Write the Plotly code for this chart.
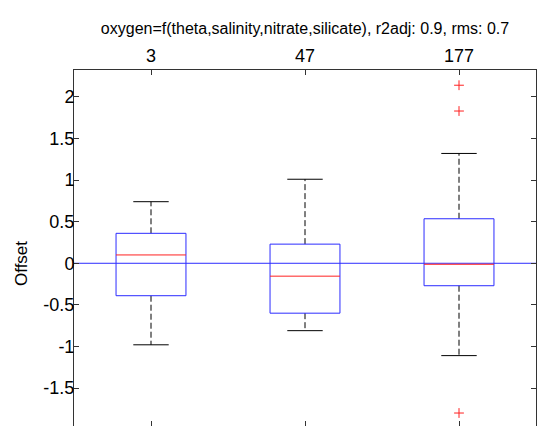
import plotly.graph_objects as go

# ---- data ----
categories = ["3", "47", "177"]
positions = [0, 1, 2]
q1 = [-0.39, -0.60, -0.27]
median = [0.10, -0.155, -0.012]
q3 = [0.36, 0.23, 0.535]
lower_whisker = [-0.98, -0.81, -1.11]
upper_whisker = [0.74, 1.01, 1.32]
outlier_group = [2, 2, 2]
outlier_values = [2.14, 1.83, -1.80]
y_ticks = [-1.5, -1, -0.5, 0, 0.5, 1, 1.5, 2]
y_ticklabels = ["-1.5", "-1", "-0.5", "0", "0.5", "1", "1.5", "2"]
reference_level = 0
title_text = "oxygen=f(theta,salinity,nitrate,silicate), r2adj: 0.9, rms: 0.7"

# ---- styles ----
FONT = "Liberation Sans, Arial, sans-serif"
AXC = "#333333"
BLUE = "#2b2bff"
RED = "#ff2020"
half_w = 0.227
cap_w = 0.115

box_x, box_y = [], []
med_x, med_y = [], []
wh_x, wh_y = [], []
cap_x, cap_y = [], []
for p, a, m, b, lo, hi in zip(positions, q1, median, q3, lower_whisker, upper_whisker):
    box_x += [p - half_w, p + half_w, p + half_w, p - half_w, p - half_w, None]
    box_y += [a, a, b, b, a, None]
    med_x += [p - half_w, p + half_w, None]
    med_y += [m, m, None]
    wh_x += [p, p, None, p, p, None]
    wh_y += [b, hi, None, a, lo, None]
    cap_x += [p - cap_w, p + cap_w, None, p - cap_w, p + cap_w, None]
    cap_y += [hi, hi, None, lo, lo, None]

fig = go.Figure()
fig.add_trace(go.Scatter(x=wh_x, y=wh_y, mode="lines",
                         line=dict(color="#000000", width=1, dash="6px,3px"),
                         hoverinfo="skip", showlegend=False))
fig.add_trace(go.Scatter(x=cap_x, y=cap_y, mode="lines",
                         line=dict(color="#000000", width=1),
                         hoverinfo="skip", showlegend=False))
fig.add_trace(go.Scatter(x=box_x, y=box_y, mode="lines",
                         line=dict(color=BLUE, width=1),
                         hoverinfo="skip", showlegend=False))
fig.add_trace(go.Scatter(x=med_x, y=med_y, mode="lines",
                         line=dict(color=RED, width=1),
                         hoverinfo="skip", showlegend=False))
fig.add_trace(go.Scatter(x=[positions[g] for g in outlier_group], y=outlier_values,
                         mode="markers",
                         marker=dict(symbol="cross-thin", size=7,
                                     line=dict(color=RED, width=1)),
                         hoverinfo="skip", showlegend=False))
# dummy trace on the bottom x axis so its ticks render
fig.add_trace(go.Scatter(x=[positions[0]], y=[median[0]], xaxis="x2", mode="markers",
                         marker=dict(opacity=0), hoverinfo="skip", showlegend=False))

fig.update_layout(
    width=538, height=426,
    margin=dict(l=74, r=2, t=70, b=0),
    paper_bgcolor="white", plot_bgcolor="white",
    font=dict(family=FONT, color="#000000"),
    title=dict(text=title_text, font=dict(size=16, family=FONT, color="#000000"),
               x=0.5, xref="paper", xanchor="center",
               y=1 - 28 / 426, yref="container", yanchor="middle"),
    xaxis=dict(range=[-0.5, 2.5], side="top", tickmode="array",
               tickvals=positions, ticktext=categories,
               ticks="inside", ticklen=5, tickcolor=AXC,
               showline=True, linecolor=AXC, linewidth=1,
               showgrid=False, zeroline=False,
               tickfont=dict(size=18, family=FONT, color="#000000")),
    xaxis2=dict(range=[-0.5, 2.5], overlaying="x", side="bottom", anchor="y",
                tickmode="array", tickvals=positions, showticklabels=False,
                ticks="inside", ticklen=5, tickcolor=AXC,
                showline=False, showgrid=False, zeroline=False),
    yaxis=dict(range=[-1.956, 2.323], tickmode="array",
               tickvals=y_ticks, ticktext=y_ticklabels,
               ticks="inside", ticklen=5, tickcolor=AXC,
               showline=True, linecolor=AXC, linewidth=1, mirror="ticks",
               showgrid=False, zeroline=False, ticklabelstandoff=-5,
               tickfont=dict(size=18, family=FONT, color="#000000")),
    shapes=[dict(type="line", xref="paper", yref="y", x0=0, x1=1,
                 y0=reference_level, y1=reference_level,
                 line=dict(color=BLUE, width=1), layer="below")],
    annotations=[dict(text="Offset", xref="paper", yref="paper",
                      x=(21 - 74) / 462, y=1 - (264 - 70) / 356,
                      xanchor="center", yanchor="middle", textangle=-90,
                      showarrow=False, font=dict(size=17, family=FONT, color="#000000"))],
)

fig.write_html("out.html", config={"displayModeBar": False},
               post_script="document.body.style.margin='0';document.body.style.overflow='hidden';")
